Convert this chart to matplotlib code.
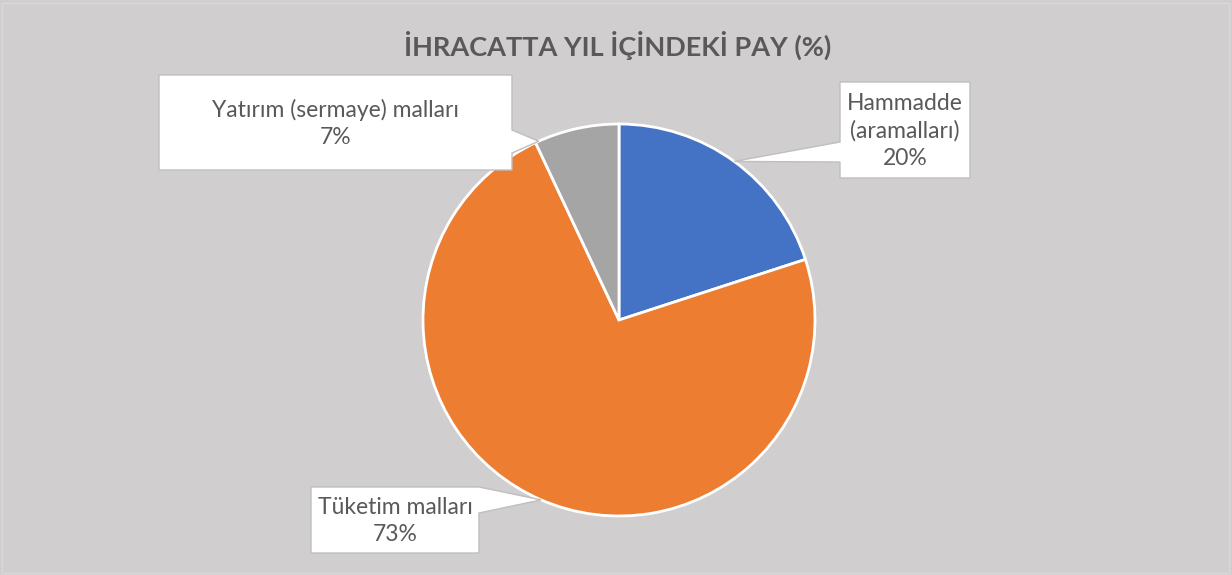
import numpy as np
import matplotlib
matplotlib.use('Agg')
import matplotlib.pyplot as plt
from matplotlib.patches import Polygon, Rectangle

# data
categories = ['Hammadde\n(aramalları)', 'Tüketim malları', 'Yatırım (sermaye) malları']
shares = [20, 73, 7]
colors = ['#4472C4', '#ED7D31', '#A5A5A5']
title = 'İHRACATTA YIL İÇİNDEKİ PAY (%)'

W, H = 1232, 575
bg = '#D0CECE'
txt = '#595959'
plt.rcParams['font.family'] = ['Lato', 'DejaVu Sans']

fig = plt.figure(figsize=(W / 100, H / 100), dpi=100)
fig.patch.set_facecolor(bg)
ax = fig.add_axes([0, 0, 1, 1])

cx, cy, r = 619, H - 320, 196
wedges, _ = ax.pie(shares, colors=colors, startangle=90, counterclock=False,
                   center=(cx, cy), radius=r, frame=True,
                   wedgeprops=dict(edgecolor='white', linewidth=2))
ax.set_xlim(0, W)
ax.set_ylim(0, H)
ax.set_aspect('equal')
ax.axis('off')

ax.text(618, H - 45, title, ha='center', va='center', fontsize=19.5,
        fontweight='bold', color=txt)

# callouts: box (x0, top, x1, bottom) in top-down px, pointer side, pointer base (top, bottom), pos along wedge
callouts = [
    dict(box=(840, 82, 970, 178), side='left', base=(142, 162), frac=0.5),
    dict(box=(311, 487, 479, 553), side='right', base=(487, 513), frac=0.5),
    dict(box=(159, 75, 512, 170), side='right', base=(130, 153), frac=0.96),
]

for w, lab, pct, c in zip(wedges, categories, shares, callouts):
    t1, t2 = w.theta1, w.theta2
    ang = np.deg2rad(t1 + (t2 - t1) * c['frac'])
    tip = (cx + r * np.cos(ang), cy + r * np.sin(ang))
    x0, top, x1, bot = c['box']
    b0, b1 = c['base']
    if c['side'] == 'left':
        pts = [(x0, top), (x1, top), (x1, bot), (x0, bot), (x0, b1), tip, (x0, b0)]
    else:
        pts = [(x0, top), (x1, top), (x1, b0), tip, (x1, b1), (x1, bot), (x0, bot)]
    pts = [(p[0], H - p[1]) if p is not tip else p for p in pts]
    ax.add_patch(Polygon(pts, closed=True, facecolor='white', edgecolor='#BFBFBF',
                         linewidth=1, zorder=5))
    ax.text((x0 + x1) / 2, H - (top + bot) / 2 - 1, f'{lab}\n{pct}%', ha='center',
            va='center', fontsize=16.5, color=txt, linespacing=1.38, zorder=6)

ax.add_patch(Rectangle((2, 2), W - 5, H - 5, fill=False, edgecolor='#D9D9D9',
                       linewidth=1, zorder=7))

fig.savefig('out.png', dpi=100, facecolor=bg)
